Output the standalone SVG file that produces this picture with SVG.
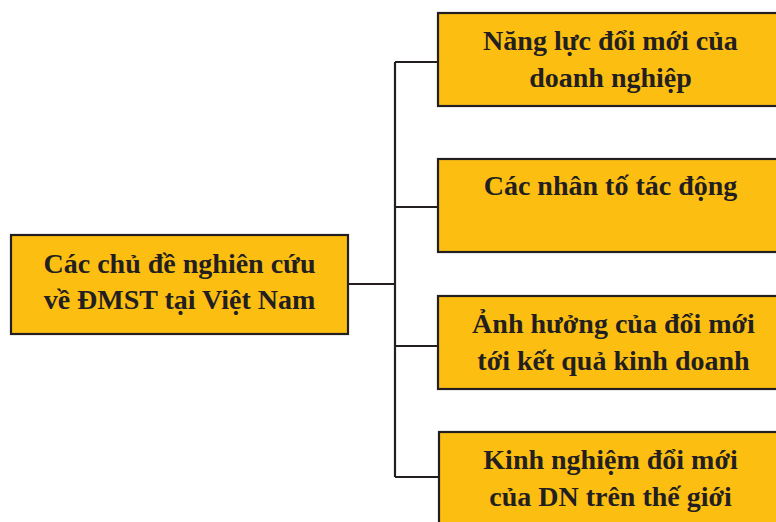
<svg xmlns="http://www.w3.org/2000/svg" width="776" height="522" viewBox="0 0 776 522">
<style>
.box{fill:#FDBE12;stroke:#231F20;stroke-width:2.2}
.t{font-family:"Liberation Serif","Times New Roman",serif;font-weight:bold;font-size:28px;fill:#231F20;text-anchor:middle}
.c{fill:none;stroke:#231F20;stroke-width:2.2}
</style>
<rect width="776" height="522" fill="#fff"/>
<g id="connectors">
<path class="c" d="M349 284H396M395 62V477M395 62H438M395 207H438M395 346H440M395 477H439"/>
</g>
<g id="root">
<rect class="box" x="11" y="235" width="337" height="99"/>
<text class="t" x="179.5" y="273">Các chủ đề nghiên cứu</text>
<text class="t" x="179.5" y="309">về ĐMST tại Việt Nam</text>
</g>
<g id="n1">
<rect class="box" x="438" y="13" width="344" height="93"/>
<text class="t" x="610.5" y="50">Năng lực đổi mới của</text>
<text class="t" x="610.5" y="87">doanh nghiệp</text>
</g>
<g id="n2">
<rect class="box" x="438" y="159" width="344" height="93"/>
<text class="t" x="610.5" y="195">Các nhân tố tác động</text>
</g>
<g id="n3">
<rect class="box" x="438" y="296" width="344" height="93"/>
<text class="t" x="613.5" y="333">Ảnh hưởng của đổi mới</text>
<text class="t" x="613.5" y="370">tới kết quả kinh doanh</text>
</g>
<g id="n4">
<rect class="box" x="439" y="432" width="344" height="100"/>
<text class="t" x="610.5" y="469">Kinh nghiệm đổi mới</text>
<text class="t" x="610.5" y="506">của DN trên thế giới</text>
</g>
</svg>
